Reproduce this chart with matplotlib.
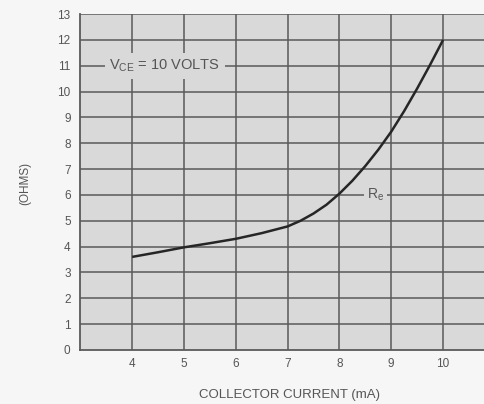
import numpy as np
import matplotlib
matplotlib.use("Agg")
import matplotlib.pyplot as plt

# 読み取った曲線データ (Re vs コレクタ電流)
current_ma = [4, 4.5, 5, 5.5, 6, 6.5, 7, 7.25, 7.5, 7.75, 8, 8.25, 8.5, 8.75, 9, 9.25, 9.5, 9.75, 10]
re_ohms = [3.6, 3.78, 3.97, 4.13, 4.3, 4.52, 4.78, 5.0, 5.28, 5.62, 6.05, 6.55, 7.12, 7.75, 8.45, 9.25, 10.12, 11.04, 12.0]

x_ticks = [4, 5, 6, 7, 8, 9, 10]
y_ticks = list(range(0, 14))

BG = "#d9d9d9"
GRID = "#5a5a5a"
TEXT = "#555555"

plt.rcParams['font.family'] = ['Liberation Sans', 'DejaVu Sans']
plt.rcParams['mathtext.default'] = 'regular'

fig = plt.figure(figsize=(4.84, 4.04), dpi=100, facecolor="#f6f6f6")
ax = fig.add_axes([0.166, 0.134, 0.834, 0.831])
ax.set_facecolor(BG)

ax.set_xlim(3, 10.79)
ax.set_ylim(0, 13)

# グリッド
for xv in x_ticks:
    ax.axvline(xv, color=GRID, lw=1.1, zorder=1)
for yv in y_ticks[1:]:
    ax.axhline(yv, color=GRID, lw=1.1, zorder=1)

ax.plot(current_ma, re_ohms, color="#262626", lw=1.8, zorder=3,
        solid_capstyle="butt", solid_joinstyle="round")

ax.set_xticks(x_ticks)
ax.set_yticks(y_ticks)
ax.tick_params(axis="x", length=0, labelsize=8.5, labelcolor=TEXT, pad=6)
ax.tick_params(axis="y", length=0, labelsize=8.5, labelcolor=TEXT, pad=7)

for s in ["top", "right"]:
    ax.spines[s].set_visible(False)
for s in ["left", "bottom"]:
    ax.spines[s].set_color(GRID)
    ax.spines[s].set_linewidth(1.3)

ax.text(4.63, 11, "V$_{CE}$ = 10 VOLTS", ha="center", va="center",
        fontsize=10.5, color=TEXT, zorder=4,
        bbox=dict(facecolor=BG, edgecolor="none", pad=3.5))
ax.text(8.70, 6, "R$_e$", ha="center", va="center",
        fontsize=10, color=TEXT, zorder=4,
        bbox=dict(facecolor=BG, edgecolor="none", pad=2.0))

ax.set_xlabel("COLLECTOR CURRENT (mA)", fontsize=9.5, color=TEXT)
ax.xaxis.set_label_coords(0.517, -0.117)
fig.text(0.052, 0.547, "(OHMS)", rotation=90, ha="center", va="center",
         fontsize=8.5, color=TEXT)

fig.savefig("out.png", dpi=100, facecolor=fig.get_facecolor())
